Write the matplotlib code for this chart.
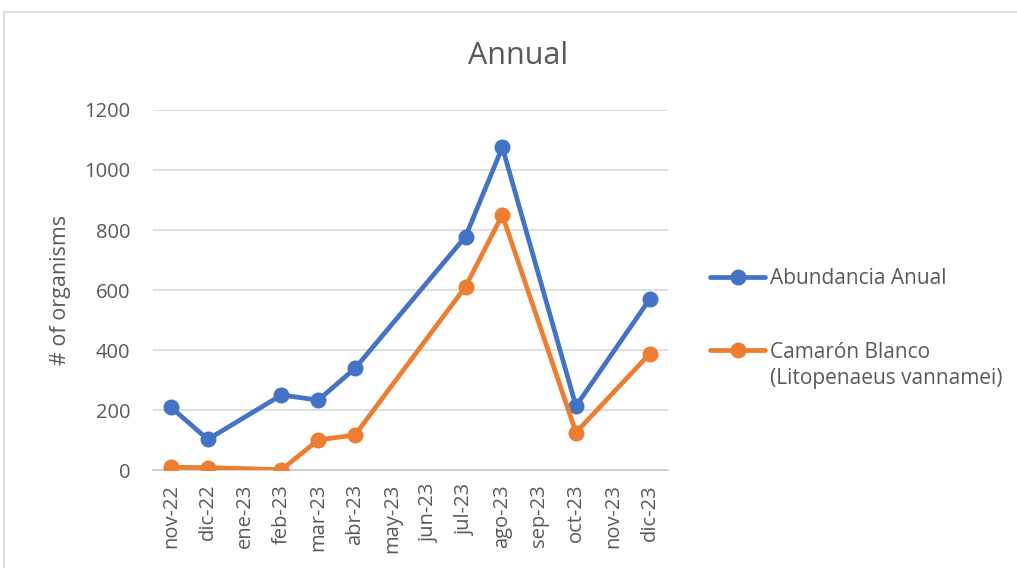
import numpy as np
import matplotlib.pyplot as plt
from matplotlib.patches import Rectangle
from matplotlib.text import Annotation

plt.rcParams['font.family'] = ['Open Sans', 'DejaVu Sans']

months = ['nov-22', 'dic-22', 'ene-23', 'feb-23', 'mar-23', 'abr-23', 'may-23',
          'jun-23', 'jul-23', 'ago-23', 'sep-23', 'oct-23', 'nov-23', 'dic-23']
# nan = month without sampling (line is connected across the gap)
abundancia = [209, 102, np.nan, 250, 233, 339, np.nan, np.nan, 778, 1076, np.nan, 213, np.nan, 569]
camaron = [9, 8, np.nan, 1, 100, 117, np.nan, np.nan, 611, 850, np.nan, 125, np.nan, 387]

blue = '#4472C4'
orange = '#ED7D31'
txt = '#595959'

fig = plt.figure(figsize=(10.17, 5.68), dpi=100)
W, H = 1017, 568
ax = fig.add_axes([152.6 / W, 1 - 470 / H, (668 - 152.6) / W, (470 - 110) / H])

x = np.arange(len(months))
for vals, col, lab in [(abundancia, blue, 'Abundancia Anual'),
                       (camaron, orange, 'Camarón Blanco')]:
    v = np.array(vals, dtype=float)
    m = ~np.isnan(v)
    ax.plot(x[m], v[m], color=col, lw=3.4, marker='o', ms=10.5,
            solid_capstyle='round', label=lab, zorder=3)

ax.set_xlim(-0.5, len(months) - 0.5)
ax.set_ylim(0, 1200)
ax.set_yticks(range(0, 1201, 200))
ax.set_xticks(x)
ax.set_xticklabels(months, rotation=90)
ax.grid(axis='y', color='#D9D9D9', lw=1.2)
ax.set_axisbelow(True)
for s in ['top', 'right', 'left']:
    ax.spines[s].set_visible(False)
ax.spines['bottom'].set_color('#C8C8C8')
ax.spines['bottom'].set_linewidth(1.2)
ax.tick_params(axis='both', length=0, labelsize=14.5, colors=txt)
ax.tick_params(axis='y', pad=16)
ax.tick_params(axis='x', pad=10)

ax.set_ylabel('# of organisms', fontsize=15.5, color=txt)
ax.yaxis.set_label_coords((71 - 152.6) / (668 - 152.6), 0.5)
fig.text(518 / W, 1 - 56 / H, 'Annual', fontsize=22, color=txt, ha='center', va='center')

leg = fig.legend(loc='upper left', bbox_to_anchor=(700 / W, 1 - 258 / H),
                 frameon=False, fontsize=15, handlelength=2.64, handletextpad=0.2,
                 labelspacing=2.5, borderpad=0, labelcolor=txt)
note = Annotation('(Litopenaeus vannamei)', xy=(0, 0), xycoords=leg.get_texts()[1],
                  xytext=(0, -4), textcoords='offset points', va='top', ha='left',
                  fontsize=15, color=txt)
note.set_zorder(6)
fig.add_artist(note)

fig.patches.append(Rectangle((4 / W, -0.1), 1.2, 1 - 12 / H + 0.1, transform=fig.transFigure,
                             fill=False, edgecolor='#D9D9D9', lw=1.2, clip_on=False))

fig.savefig('out.png', dpi=100)
